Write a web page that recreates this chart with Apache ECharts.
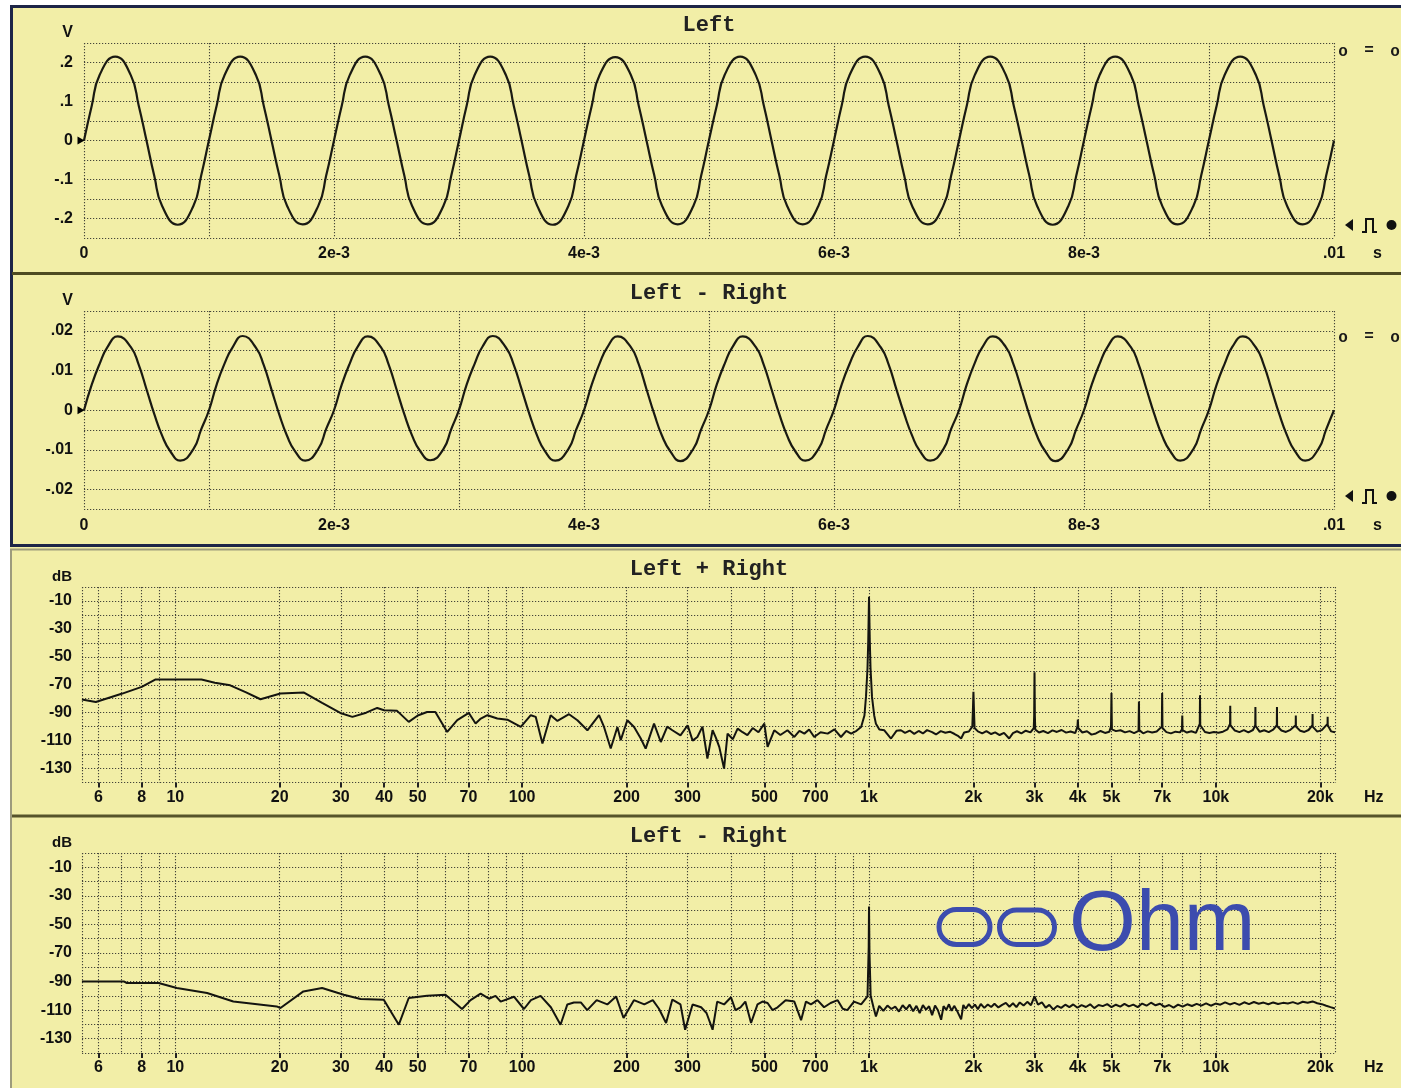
<!DOCTYPE html>
<html><head><meta charset="utf-8">
<script src="https://cdn.jsdelivr.net/npm/echarts@6/dist/echarts.min.js"></script>
<style>html,body{margin:0;padding:0;background:#fff}#c{width:1401px;height:1088px}</style>
</head><body><div id="c"></div><script>
// ---------- data ----------
const leftTimeMs = [0,0.0625,0.125,0.25,0.375,0.4375,0.5,0.5625,0.625,0.75,0.875,0.9375,
 1,1.0625,1.125,1.25,1.375,1.4375,1.5,1.5625,1.625,1.75,1.875,1.9375,
 2,2.0625,2.125,2.25,2.375,2.4375,2.5,2.5625,2.625,2.75,2.875,2.9375,
 3,3.0625,3.125,3.25,3.375,3.4375,3.5,3.5625,3.625,3.75,3.875,3.9375,
 4,4.0625,4.125,4.25,4.375,4.4375,4.5,4.5625,4.625,4.75,4.875,4.9375,
 5,5.0625,5.125,5.25,5.375,5.4375,5.5,5.5625,5.625,5.75,5.875,5.9375,
 6,6.0625,6.125,6.25,6.375,6.4375,6.5,6.5625,6.625,6.75,6.875,6.9375,
 7,7.0625,7.125,7.25,7.375,7.4375,7.5,7.5625,7.625,7.75,7.875,7.9375,
 8,8.0625,8.125,8.25,8.375,8.4375,8.5,8.5625,8.625,8.75,8.875,8.9375,
 9,9.0625,9.125,9.25,9.375,9.4375,9.5,9.5625,9.625,9.75,9.875,9.9375,
 10];
const leftVolts = [
 0,.090,.168,.215,.167,.090,0,-.091,-.168,-.216,-.168,-.090,
 .001,.091,.168,.215,.168,.090,0,-.090,-.168,-.215,-.167,-.090,
 0,.090,.167,.215,.168,.091,.001,-.090,-.168,-.215,-.168,-.091,
 0,.091,.168,.215,.168,.090,0,-.091,-.167,-.216,-.168,-.090,
 0,.090,.168,.214,.168,.090,0,-.090,-.168,-.215,-.168,-.090,
 .001,.090,.168,.215,.167,.091,0,-.090,-.168,-.215,-.168,-.090,
 0,.091,.168,.215,.168,.090,0,-.091,-.168,-.215,-.167,-.090,
 0,.090,.167,.215,.168,.090,.001,-.090,-.168,-.216,-.168,-.091,
 0,.090,.168,.215,.168,.090,0,-.090,-.167,-.215,-.168,-.090,
 .001,.091,.168,.215,.168,.090,0,-.091,-.168,-.215,-.168,-.090,
 0];
const diffTimeMs = [0,0.0625,0.125,0.1875,0.27,0.375,0.4375,0.5,0.5625,0.625,0.6875,0.77,0.875,0.9375,
 1,1.0625,1.125,1.1875,1.27,1.375,1.4375,1.5,1.5625,1.625,1.6875,1.77,1.875,1.9375,
 2,2.0625,2.125,2.1875,2.27,2.375,2.4375,2.5,2.5625,2.625,2.6875,2.77,2.875,2.9375,
 3,3.0625,3.125,3.1875,3.27,3.375,3.4375,3.5,3.5625,3.625,3.6875,3.77,3.875,3.9375,
 4,4.0625,4.125,4.1875,4.27,4.375,4.4375,4.5,4.5625,4.625,4.6875,4.77,4.875,4.9375,
 5,5.0625,5.125,5.1875,5.27,5.375,5.4375,5.5,5.5625,5.625,5.6875,5.77,5.875,5.9375,
 6,6.0625,6.125,6.1875,6.27,6.375,6.4375,6.5,6.5625,6.625,6.6875,6.77,6.875,6.9375,
 7,7.0625,7.125,7.1875,7.27,7.375,7.4375,7.5,7.5625,7.625,7.6875,7.77,7.875,7.9375,
 8,8.0625,8.125,8.1875,8.27,8.375,8.4375,8.5,8.5625,8.625,8.6875,8.77,8.875,8.9375,
 9,9.0625,9.125,9.1875,9.27,9.375,9.4375,9.5,9.5625,9.625,9.6875,9.77,9.875,9.9375,
 10];
const diffVolts = [
 0,.0065,.0117,.0159,.0186,.0159,.0115,.0053,-.0010,-.0064,-.0102,-.0127,-.0098,-.0048,
 0,.0066,.0118,.0158,.0187,.0158,.0114,.0052,-.0011,-.0065,-.0103,-.0127,-.0097,-.0047,
 0,.0065,.0117,.0159,.0186,.0159,.0115,.0053,-.0010,-.0064,-.0102,-.0126,-.0098,-.0048,
 .0001,.0066,.0117,.0160,.0187,.0158,.0115,.0054,-.0009,-.0064,-.0103,-.0127,-.0098,-.0049,
 0,.0065,.0118,.0159,.0186,.0159,.0116,.0053,-.0010,-.0065,-.0102,-.0128,-.0097,-.0048,
 0,.0065,.0117,.0159,.0186,.0159,.0115,.0053,-.0010,-.0064,-.0102,-.0127,-.0098,-.0048,
 .0001,.0066,.0117,.0158,.0187,.0158,.0115,.0052,-.0010,-.0064,-.0103,-.0127,-.0098,-.0047,
 0,.0065,.0118,.0159,.0186,.0159,.0114,.0053,-.0011,-.0065,-.0102,-.0128,-.0097,-.0048,
 0,.0065,.0117,.0159,.0186,.0159,.0115,.0053,-.0010,-.0064,-.0102,-.0127,-.0098,-.0048,
 .0001,.0066,.0117,.0160,.0186,.0158,.0115,.0053,-.0010,-.0064,-.0103,-.0127,-.0098,-.0048,
 0];
const sumSpectrum = [[5.38,-80.6],[5.9,-82.3],[7.0,-76.5],[8.0,-71.5],[8.75,-66.3],[11.9,-66.3],[13.0,-68.5],[14.4,-70.4],[16.0,-75.5],[17.6,-80.4],[20.1,-76.3],[23.5,-75.6],[26.5,-83],[29.9,-90.2],[32.4,-93],[35.5,-90],[38.2,-86.6],[40.0,-88.3],[43.6,-88.7],[47.1,-96.6],[50.0,-92],[53.2,-89.5],[56.2,-89.5],[60.8,-103.8],[65,-95.4],[70.2,-90.2],[73.4,-97.8],[76,-94.2],[79.4,-91.8],[84.8,-94.2],[90.6,-95],[99.1,-100.2],[105.9,-91.8],[109.4,-93],[114.4,-112.1],[120.8,-91.8],[126.4,-95.9],[136.5,-91.1],[144.3,-95.4],[154.2,-102.6],[166.6,-91.8],[172.2,-100.2],[180,-115.7],[188.2,-100.2],[192.4,-109.7],[201,-95.4],[210.2,-100.2],[219.8,-108.5],[227,-115.7],[240,-97.8],[251,-111],[262,-100],[271,-102.6],[286,-106.2],[300,-99],[310,-110],[320,-107.4],[331,-100],[342,-122.8],[354,-102.6],[362,-108],[370,-114.5],[382,-130],[391,-105],[405,-109],[418,-101.4],[432,-104],[446,-106],[462,-101],[480,-104],[499,-97.8],[510,-114.5],[533,-102.6],[555,-106],[582,-102.6],[609,-107.4],[630,-103],[651,-105],[672,-102],[695,-107.4],[725,-104],[760,-105],[795,-102],[830,-107.4],[860,-103],[888,-105],[920,-103],[949,-100.2],[970,-92],[980,-78.7],[990,-58],[995,-38],[1000,-7],[1005,-38],[1010,-58],[1020,-78.7],[1035,-92],[1047,-98],[1071,-102],[1107,-102.6],[1157,-108.5],[1200,-103],[1236,-102.6],
[1270,-104.5],[1310,-102.8],[1350,-105.2],[1390,-103.1],[1430,-104.9],[1470,-102.5],[1520,-103.9],[1560,-105.6],[1610,-103.2],[1660,-104.4],[1710,-103.6],[1760,-105.1],[1810,-106.8],[1843,-108.5],[1880,-104.2],[1940,-103.5],[1985,-100],[1993,-88],[2000,-75],[2007,-88],[2015,-101],[2060,-103.4],[2120,-104.8],[2180,-103.2],[2250,-105.3],[2310,-104.1],[2380,-106],[2450,-104.5],[2535,-108.5],[2600,-104.6],[2670,-103.3],[2750,-104.8],[2830,-102.9],[2920,-104.1],[2985,-101],[2993,-92],[3000,-61],[3007,-92],[3015,-102],[3090,-104.2],[3180,-103.1],[3280,-104.6],[3380,-102.7],[3480,-103.8],[3590,-102.4],[3700,-104.3],[3810,-103.5],[3930,-104.6],[3990,-100],[4000,-95],[4010,-101],[4120,-104.2],[4250,-103.3],[4380,-105.7],[4510,-104.9],[4650,-103.1],[4790,-104.5],[4930,-103.6],[4985,-100],[4993,-88],[5000,-76],[5007,-90],[5015,-102],[5150,-103.2],[5310,-102.6],[5470,-104.1],[5640,-103.2],[5810,-104.6],[5985,-103],[6000,-82],[6015,-102.5],[6170,-104.8],[6360,-103.4],[6550,-104.2],[6750,-103.5],[6985,-100],[7000,-76],[7015,-101],[7200,-103.9],[7420,-104.8],[7650,-103.6],[7880,-104.1],[7985,-102],[8000,-92],[8015,-102.5],[8250,-104.2],[8500,-103.3],[8760,-104.5],[8985,-98],[9000,-77.5],[9015,-99],[9300,-103.8],[9580,-104.5],[9870,-103.9],[10170,-104.4],[10480,-103.6],[10800,-102],[10985,-98],[11000,-85],[11015,-99],[11340,-102.8],[11690,-103.9],[12040,-102.5],[12410,-104.1],[12790,-102.4],[12985,-99],[13000,-86],[13015,-99.5],[13380,-103.7],[13780,-102.6],[14200,-103.9],[14630,-102.1],[14985,-99],[15000,-86],[15015,-99.5],[15450,-102.8],[15920,-103.8],[16400,-102.3],[16985,-99],[17000,-92],[17015,-100],[17500,-102.9],[18000,-103.8],[18500,-102.4],[18985,-99],[19000,-91],[19015,-100],[19600,-103.6],[20200,-102.5],[20985,-98],[21000,-93],[21015,-99],[21500,-103.4],[22050,-104]];
const diffSpectrum = [[5.38,-89.9],[7.1,-89.9],[7.25,-91],[8.95,-91],[10.1,-94.5],[12.35,-98],[14.7,-103.9],[19.6,-107.4],[20.1,-108.5],[23.4,-96.9],[26.5,-94.5],[30.6,-99.2],[34.2,-102.2],[39.9,-102.7],[44.1,-120.2],[47.1,-101.5],[53.2,-99.9],[60.1,-99.2],[67.1,-109.2],[71,-103],[75.9,-98.5],[80.2,-102],[83.8,-100],[86.7,-104],[94.7,-100.6],[101.2,-109.2],[106,-103],[113,-100],[121,-108],[129,-120.2],[135,-106],[141,-104.6],[147.6,-104.6],[154,-110],[164,-103],[176,-106],[186.5,-100.4],[196,-115.5],[210,-103],[225,-106],[238,-103],[248,-109],[260,-119],[271,-102.6],[286,-106],[295,-123.7],[310,-106],[328,-108],[340,-112],[354,-123.7],[365,-104],[382,-106],[400,-101],[412,-110],[426,-108],[440,-104],[457,-119],[477,-106],[493,-104],[510,-105],[527,-110],[545,-108],[575,-103],[609,-104],[637,-117],[658,-104],[680,-106],[710,-103],[742,-108],[775,-105],[812,-103],[840,-109],[866,-110],[905,-104],[949,-106],[990,-100.4],[998,-65.4],[1000,-37.4],[1003,-70],[1011,-100],[1030,-108],[1047,-114.4],[1070,-107],[1100,-110.5],[1130,-106.8],[1160,-109.2],[1190,-107.5],[1220,-111],[1250,-106.6],
[1280,-109.4],[1310,-106.2],[1340,-110.8],[1370,-107],[1400,-112],[1430,-106.5],[1460,-109.6],[1490,-107.3],[1520,-113.5],[1550,-106.8],[1580,-110.1],[1614,-116.7],[1640,-107.2],[1670,-109.8],[1700,-105.9],[1730,-110.5],[1760,-107],[1800,-111.2],[1843,-116.5],[1870,-106.4],[1900,-109],[1940,-105.8],[1980,-108.6],[2020,-106.1],[2060,-109.3],[2100,-105.7],[2150,-108.4],[2200,-106],[2250,-107.8],[2300,-105.5],[2360,-108.1],[2420,-106.3],[2480,-104.9],[2540,-107.6],[2600,-105.2],[2660,-107.9],[2720,-104.6],[2790,-106.8],[2860,-104.2],[2930,-106.5],[3000,-100.4],[3070,-106.1],[3150,-104.5],[3230,-108.2],[3310,-106.3],[3400,-109.6],[3490,-107],[3580,-108.4],[3680,-106.2],[3780,-107.9],[3880,-106],[3990,-108.3],[4100,-106.5],[4220,-107.8],[4340,-105.9],[4460,-108.6],[4590,-106.4],[4720,-107.2],[4860,-105.8],[5000,-107.9],[5150,-106.2],[5300,-107.5],[5450,-105.6],[5610,-107.4],[5780,-106.1],[5950,-107.9],[6130,-105.4],[6310,-106.9],[6500,-104.8],[6700,-106.6],[6900,-105.5],[7110,-107.7],[7330,-106.4],[7550,-108.2],[7780,-106.1],[8020,-107.6],[8270,-105.9],[8530,-107.1],[8800,-105.6],[9080,-106.8],[9370,-105.3],[9670,-106.9],[9980,-105.4],[10300,-106.2],[10630,-104.6],[10970,-106],[11320,-104.9],[11690,-106.3],[12070,-104.5],[12460,-105.8],[12870,-104.3],[13290,-105.5],[13720,-104.7],[14170,-105.9],[14630,-104.6],[15110,-105.7],[15610,-104.9],[16130,-105.3],[16670,-104.4],[17230,-105.6],[17800,-104.1],[18390,-104.8],[19000,-103.9],[19600,-105.2],[20200,-105.8],[20800,-106.9],[21400,-107.9],[22050,-108.8]];
const freqLabelTicks = [6,8,10,20,30,40,50,70,100,200,300,500,700,1000,2000,3000,4000,5000,7000,10000,20000];
const freqGridTicks = [5.39,6,7,8,9,10,20,30,40,50,60,70,80,90,100,200,300,400,500,600,700,800,900,1000,2000,3000,4000,5000,6000,7000,8000,9000,10000,20000,22040];
const panelTitles = ['Left','Left - Right','Left + Right','Left - Right'];

// ---------- styles ----------
const BG = '#f2eea7';
const LBL = {color:'#111', fontWeight:'bold', fontSize:16, fontFamily:'"Liberation Sans", Arial, sans-serif'};
const GRIDLINE = {color:'#45453a', width:1.1, type:[1.2,1.8]};
const TRACE = {color:'#1a1a12', width:2.2};

function timeFmt(v){ const m = Math.round(v); if (Math.abs(v-m)>1e-6) return ''; if (m===0) return '0'; if (m===10) return '.01'; return (m%2===0) ? m+'e-3' : ''; }
function voltFmt(step){ return function(v){ const k = Math.round(v/step); if (Math.abs(v/step-k)>1e-6 || k%2!==0) return ''; const s = String(+(k*step).toFixed(4)); return s.replace('0.','.'); }; }
function dbFmt(v){ const k = Math.round(-v/10); return (k%2===1) ? String(Math.round(v)) : ''; }
function hzFmt(v){ const r = Math.round(v); return r>=1000 ? (r/1000)+'k' : String(r); }

const grids = [
  {left:84, top:43, width:1250, height:195},
  {left:84, top:311, width:1250, height:198.5},
  {left:82, top:587, width:1253, height:195.5},
  {left:82, top:853, width:1253, height:200}
];

function timeAxis(gi){
  return {gridIndex:gi, type:'value', min:0, max:10, interval:1, position:'bottom',
    axisLine:{show:false, onZero:false}, axisTick:{show:false},
    axisLabel:Object.assign({formatter:timeFmt, margin:8, showMinLabel:true, showMaxLabel:true}, LBL),
    splitLine:{show:true, lineStyle:GRIDLINE},
    name:'s', nameLocation:'end', nameGap:39, nameTextStyle:Object.assign({align:'left', verticalAlign:'top', padding:[8,0,0,0]}, LBL)};
}
function voltAxis(gi, lim, step){
  return {gridIndex:gi, type:'value', min:-lim, max:lim, interval:step,
    axisLine:{show:false, onZero:false}, axisTick:{show:false},
    axisLabel:Object.assign({formatter:voltFmt(step), margin:11}, LBL),
    splitLine:{show:true, lineStyle:GRIDLINE},
    name:'V', nameLocation:'end', nameGap:2, nameTextStyle:Object.assign({align:'right', verticalAlign:'bottom', padding:[0,11,0,0]}, LBL)};
}
function freqLabelAxis(gi){
  return {gridIndex:gi, type:'log', logBase:10, min:5.383, max:22050, position:'bottom',
    axisLine:{show:false, onZero:false},
    axisTick:{show:true, customValues:freqLabelTicks, length:5, lineStyle:{color:'#222', width:2}},
    axisLabel:Object.assign({customValues:freqLabelTicks, formatter:hzFmt, margin:7}, LBL),
    splitLine:{show:false},
    name:'Hz', nameLocation:'end', nameGap:29, nameTextStyle:Object.assign({align:'left', verticalAlign:'top', padding:[7,0,0,0]}, LBL)};
}
function freqGridAxis(gi){
  return {gridIndex:gi, type:'log', logBase:10, min:5.383, max:22050, position:'top',
    axisLine:{show:false, onZero:false},
    axisTick:{show:false, customValues:freqGridTicks},
    axisLabel:{show:false, customValues:freqGridTicks},
    splitLine:{show:true, lineStyle:GRIDLINE}};
}
function dbAxis(gi){
  return {gridIndex:gi, type:'value', min:-140, max:0, interval:10,
    axisLine:{show:false, onZero:false}, axisTick:{show:false},
    axisLabel:Object.assign({formatter:dbFmt, margin:10}, LBL),
    splitLine:{show:true, lineStyle:GRIDLINE},
    name:'dB', nameLocation:'end', nameGap:3, nameTextStyle:Object.assign({align:'right', verticalAlign:'bottom', padding:[0,10,0,0]}, Object.assign({}, LBL, {fontSize:15}))};
}

const zeroMark = {symbol:'triangle', symbolSize:[8,7], symbolRotate:-90, symbolOffset:[-3,0], itemStyle:{color:'#000'}, label:{show:false}, data:[{coord:[0,0]}]};

const MONO = 'bold 22px "Liberation Mono", "DejaVu Sans Mono", monospace';
const titleY = [25, 293, 569, 836];
function txt(x,y,t,font,fill,align){ return {type:'text', x:x, y:y, z:200, style:{text:t, font:font, fill:fill||'#1a1a1a', align:align||'center', textAlign:align||'center', verticalAlign:'middle', textVerticalAlign:'middle'}}; }
function rightMarkers(dyText, dyMark){
  const S = 'bold 16px "Liberation Mono", monospace';
  return [
    txt(1343, 52+dyText, 'o', S), txt(1369, 51+dyText, '=', S), txt(1395, 52+dyText, 'o', S),
    {type:'polygon', z:200, shape:{points:[[1353,219+dyMark],[1353,231+dyMark],[1345,225+dyMark]]}, style:{fill:'#111'}},
    {type:'polyline', z:200, shape:{points:[[1362,232+dyMark],[1366,232+dyMark],[1366,219+dyMark],[1373,219+dyMark],[1373,232+dyMark],[1377,232+dyMark]]}, style:{stroke:'#111', lineWidth:2, fill:'none'}},
    {type:'circle', z:200, shape:{cx:1391.5, cy:225+dyMark, r:5}, style:{fill:'#111'}}
  ];
}

const graphics = [
  {type:'rect', z:-10, shape:{x:0, y:0, width:10, height:1088}, style:{fill:'#fff'}},
  {type:'rect', z:-10, shape:{x:0, y:0, width:1401, height:5}, style:{fill:'#fff'}},
  {type:'rect', z:150, shape:{x:11.5, y:6.5, width:1400, height:539}, style:{fill:'none', stroke:'#1d2547', lineWidth:3}},
  {type:'line', z:150, shape:{x1:12, y1:273.5, x2:1401, y2:273.5}, style:{stroke:'#4e4b22', lineWidth:3}},
  {type:'rect', z:150, shape:{x:11, y:549.5, width:1400, height:545}, style:{fill:'none', stroke:'#9d9b7c', lineWidth:2}},
  {type:'line', z:150, shape:{x1:12, y1:816, x2:1401, y2:816}, style:{stroke:'#57542a', lineWidth:3}},
  // logo
  {type:'rect', z:200, shape:{x:939, y:909.5, width:51, height:35, r:17.5}, style:{fill:'none', stroke:'#3c4cae', lineWidth:5}},
  {type:'rect', z:200, shape:{x:999.5, y:910, width:55, height:34.5, r:17}, style:{fill:'none', stroke:'#3c4cae', lineWidth:5}},
  txt(1069, 926, 'Ohm', 'normal 86px "Liberation Sans", Arial, sans-serif', '#3c4cae', 'left')
].concat(panelTitles.map((t,i)=>txt(709, titleY[i], t, MONO, '#222')))
 .concat(rightMarkers(0, 0)).concat(rightMarkers(286, 271));

const option = {
  animation:false,
  backgroundColor:BG,
  grid:grids,
  xAxis:[timeAxis(0), timeAxis(1), freqLabelAxis(2), freqGridAxis(2), freqLabelAxis(3), freqGridAxis(3)],
  yAxis:[voltAxis(0, 0.25, 0.05), voltAxis(1, 0.025, 0.005), dbAxis(2), dbAxis(3)],
  series:[
    {type:'line', xAxisIndex:0, yAxisIndex:0, data:leftTimeMs.map((t,i)=>[t,leftVolts[i]]), smooth:0.5, showSymbol:false, lineStyle:TRACE, markPoint:zeroMark},
    {type:'line', xAxisIndex:1, yAxisIndex:1, data:diffTimeMs.map((t,i)=>[t,diffVolts[i]]), smooth:0.5, showSymbol:false, lineStyle:TRACE, markPoint:zeroMark},
    {type:'line', xAxisIndex:2, yAxisIndex:2, data:sumSpectrum, showSymbol:false, lineStyle:{color:'#141410', width:2}},
    {type:'line', xAxisIndex:4, yAxisIndex:3, data:diffSpectrum, showSymbol:false, lineStyle:{color:'#141410', width:2}}
  ],
  graphic:graphics
};
const chart = echarts.init(document.getElementById('c'), null, {renderer:'canvas'});
chart.setOption(option);
</script></body></html>
